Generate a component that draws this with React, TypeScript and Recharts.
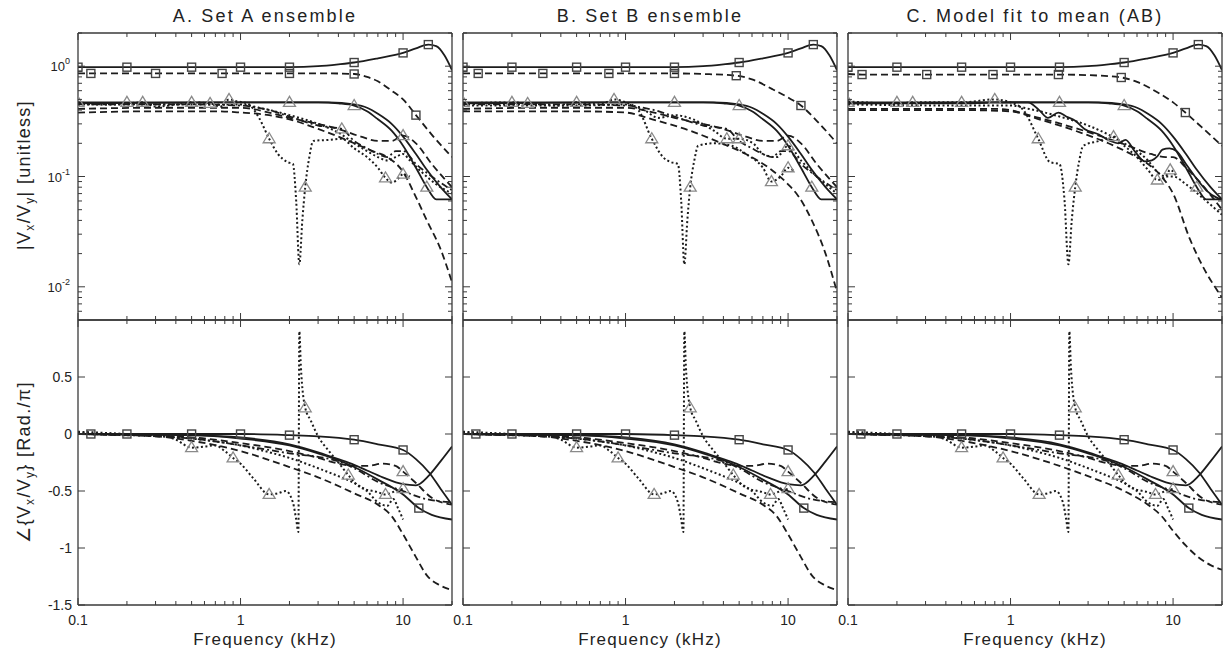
import React from 'react';
import { LineChart, Line, XAxis, YAxis } from 'recharts';

type Pt = [number, number];

const TITLES = ['A. Set A ensemble', 'B. Set B ensemble', 'C. Model fit to mean (AB)'];
const FREQ_TICKS = [0.1, 0.2, 0.3, 0.4, 0.5, 0.6, 0.7, 0.8, 0.9, 1, 2, 3, 4, 5, 6, 7, 8, 9, 10, 20];
const MAG_TICKS = [0.006, 0.007, 0.008, 0.009, 0.01, 0.02, 0.03, 0.04, 0.05, 0.06, 0.07, 0.08, 0.09, 0.1, 0.2, 0.3, 0.4, 0.5, 0.6, 0.7, 0.8, 0.9, 1, 2];
const PHASE_TICKS = [-1.5, -1, -0.5, 0, 0.5];

// ---- magnitude, panel A ----
const magA_sqSolid: Pt[] = [[0.1, 0.98], [0.2, 0.98], [0.5, 0.98], [1, 0.98], [2, 0.98], [3, 1.0], [4, 1.04], [5, 1.08], [7, 1.18], [10, 1.32], [12, 1.45], [14.3, 1.57], [16, 1.52], [18, 1.25], [20, 0.92]];
const magA_sqSolidMarks = [0.1, 0.2, 0.5, 1, 2, 5, 10, 14.3];
const magA_sqDash: Pt[] = [[0.1, 0.86], [0.12, 0.86], [0.3, 0.86], [0.77, 0.86], [2, 0.86], [3.5, 0.86], [5, 0.85], [6, 0.8], [7, 0.73], [8.5, 0.6], [10, 0.5], [12, 0.36], [15, 0.24], [20, 0.15]];
const magA_sqDashMarks = [0.12, 0.3, 0.77, 2, 5, 12];
const magA_triSolid: Pt[] = [[0.1, 0.47], [0.2, 0.47], [0.5, 0.47], [1, 0.47], [2, 0.47], [3, 0.47], [4, 0.46], [5, 0.44], [6, 0.39], [7, 0.33], [8.5, 0.26], [10, 0.19], [12, 0.12], [14, 0.08], [16, 0.062], [20, 0.062]];
const magA_triSolidMarks = [0.1, 0.2, 0.5, 2, 5, 14];
const magA_solid2: Pt[] = [[0.1, 0.46], [1, 0.47], [2, 0.47], [3.5, 0.47], [5, 0.45], [6, 0.42], [7, 0.37], [8.5, 0.3], [10, 0.23], [12, 0.16], [14, 0.115], [17, 0.08], [20, 0.062]];
const magA_dash1: Pt[] = [[0.1, 0.41], [0.3, 0.42], [0.6, 0.42], [1, 0.42], [1.5, 0.38], [2, 0.34], [3, 0.3], [4, 0.27], [5.5, 0.23], [7, 0.21], [8.5, 0.21], [10, 0.235], [12, 0.2], [15, 0.13], [20, 0.08]];
const magA_dash1Marks = [10];
const magA_dash2: Pt[] = [[0.1, 0.38], [0.3, 0.39], [0.7, 0.39], [1, 0.38], [1.5, 0.36], [2, 0.33], [3, 0.27], [4, 0.23], [5, 0.2], [6.5, 0.17], [8, 0.15], [10, 0.11], [12, 0.065], [14, 0.04], [17, 0.022], [20, 0.011]];
const magA_dashDot: Pt[] = [[0.1, 0.45], [0.5, 0.45], [1, 0.44], [1.5, 0.4], [2, 0.35], [3, 0.29], [4.2, 0.27], [5, 0.21], [6, 0.18], [7, 0.16], [8, 0.15], [9, 0.17], [10, 0.17], [12, 0.13], [15, 0.1], [20, 0.075]];
const magA_dashDotMarks = [4.2];
const magA_dotDip: Pt[] = [[0.1, 0.47], [0.15, 0.45], [0.2, 0.46], [0.25, 0.47], [0.3, 0.43], [0.4, 0.45], [0.5, 0.47], [0.65, 0.46], [0.75, 0.43], [0.85, 0.5], [0.95, 0.48], [1.1, 0.46], [1.3, 0.34], [1.5, 0.22], [1.7, 0.16], [1.95, 0.135], [2.1, 0.13], [2.2, 0.06], [2.3, 0.016], [2.4, 0.04], [2.5, 0.08], [2.65, 0.15], [2.8, 0.21], [3.5, 0.215], [4.2, 0.22], [5, 0.18], [6, 0.15], [7, 0.12], [7.8, 0.097], [8.5, 0.088], [9.3, 0.095], [10, 0.105], [11, 0.1]];
const magA_dotDipMarks = [0.25, 0.65, 0.85, 1.5, 2.5, 7.8, 10];
const magA_dot2: Pt[] = [[0.1, 0.45], [0.5, 0.45], [1, 0.45], [1.3, 0.42], [2, 0.36], [3, 0.3], [4, 0.25], [5, 0.2], [6, 0.17], [7, 0.15], [8, 0.14], [9, 0.15], [10, 0.16], [11, 0.14], [13, 0.11], [16, 0.085], [20, 0.07]];

// ---- magnitude, panel B ----
const magB_sqDash: Pt[] = [[0.1, 0.86], [0.124, 0.86], [0.31, 0.86], [0.79, 0.86], [2, 0.86], [3, 0.85], [4.8, 0.82], [6, 0.76], [8, 0.62], [10, 0.52], [12, 0.44], [15, 0.32], [20, 0.2]];
const magB_sqDashMarks = [0.124, 0.31, 0.79, 2, 4.8, 12];
const magB_dash2: Pt[] = [[0.1, 0.39], [0.5, 0.39], [1, 0.38], [1.46, 0.33], [2.5, 0.26], [3.9, 0.2], [5.5, 0.16], [7.9, 0.115], [10, 0.085], [11.6, 0.066], [14, 0.04], [17, 0.02], [20, 0.009]];
const magB_dotDip: Pt[] = [[0.1, 0.46], [0.2, 0.47], [0.25, 0.46], [0.4, 0.44], [0.5, 0.47], [0.7, 0.45], [0.85, 0.5], [1, 0.47], [1.2, 0.4], [1.45, 0.22], [1.7, 0.15], [1.9, 0.135], [2.1, 0.13], [2.2, 0.06], [2.3, 0.016], [2.4, 0.04], [2.5, 0.08], [2.65, 0.14], [2.8, 0.19], [3.5, 0.2], [4.5, 0.19], [5.5, 0.16], [7, 0.12], [7.9, 0.09], [9, 0.1], [10, 0.12], [11, 0.11]];
const magB_dotDipMarks = [0.25, 0.85, 1.45, 2.5, 7.9, 10];
const magB_dot2: Pt[] = [[0.1, 0.44], [0.5, 0.44], [1, 0.45], [1.3, 0.4], [1.6, 0.34], [2, 0.36], [2.6, 0.33], [3.5, 0.26], [4.2, 0.22], [5, 0.22], [6.1, 0.2], [7, 0.16], [8.5, 0.15], [10, 0.19], [12, 0.14], [15, 0.1], [20, 0.07]];
const magB_dot2Marks = [4.2, 5, 10];

// ---- magnitude, panel C ----
const magC_sqDash: Pt[] = [[0.1, 0.85], [0.122, 0.84], [0.305, 0.84], [0.78, 0.84], [1.97, 0.84], [3, 0.83], [4.8, 0.79], [6, 0.72], [8, 0.58], [10, 0.47], [11.9, 0.38], [15, 0.28], [20, 0.19]];
const magC_sqDashMarks = [0.122, 0.305, 0.78, 1.97, 4.8, 11.9];
const magC_wiggle: Pt[] = [[0.1, 0.46], [0.5, 0.46], [1, 0.47], [1.28, 0.47], [1.5, 0.4], [1.7, 0.34], [1.97, 0.38], [2.2, 0.35], [2.5, 0.32], [2.85, 0.27], [3.5, 0.24], [4.1, 0.21], [4.6, 0.2], [5.1, 0.215], [5.8, 0.17], [6.7, 0.137], [7.4, 0.14], [8, 0.152], [8.6, 0.175], [9.5, 0.18], [10.5, 0.17], [12, 0.13], [14, 0.095], [16, 0.075], [18.7, 0.064], [20, 0.062]];
const magC_dash1: Pt[] = [[0.1, 0.41], [0.5, 0.41], [0.84, 0.41], [1.5, 0.34], [2.6, 0.27], [4, 0.22], [5.3, 0.19], [7.3, 0.16], [9, 0.15], [10, 0.15], [12, 0.12], [15, 0.085], [20, 0.05]];
const magC_dash2: Pt[] = [[0.1, 0.4], [0.5, 0.4], [1, 0.39], [1.5, 0.33], [2.5, 0.26], [4, 0.2], [5.5, 0.16], [7, 0.13], [8.5, 0.1], [10, 0.07], [12.7, 0.027], [15, 0.016], [20, 0.008]];
const magC_dotDip: Pt[] = [[0.1, 0.48], [0.2, 0.46], [0.25, 0.47], [0.5, 0.47], [0.8, 0.5], [0.9, 0.49], [1, 0.47], [1.2, 0.4], [1.48, 0.22], [1.75, 0.135], [2, 0.13], [2.15, 0.06], [2.27, 0.016], [2.38, 0.04], [2.5, 0.08], [2.65, 0.14], [2.8, 0.19], [3.5, 0.21], [4.3, 0.23], [5, 0.19], [6, 0.15], [7, 0.115], [8, 0.093], [9, 0.1], [9.6, 0.115], [10.5, 0.1]];
const magC_dotDipMarks = [0.25, 0.8, 1.48, 2.5, 4.3, 8, 9.6];
const magC_dot2: Pt[] = [[0.1, 0.45], [0.5, 0.44], [1, 0.44], [1.3, 0.41], [2, 0.35], [3, 0.29], [4, 0.24], [5, 0.2], [6, 0.17], [7, 0.14], [8, 0.11], [9, 0.1], [10, 0.1], [12, 0.085], [15, 0.065], [20, 0.045]];

// ---- phase, panel A (B uses the same traces) ----
const phA_sqSolid: Pt[] = [[0.1, 0], [0.12, 0], [0.2, 0], [0.5, 0], [1, 0], [2, -0.01], [3, -0.02], [5, -0.05], [7, -0.09], [10, -0.14], [12, -0.22], [14.5, -0.34], [17, -0.48], [20, -0.62]];
const phA_sqSolidMarks = [0.12, 0.2, 0.5, 1, 2, 5, 10];
const phA_solidDip: Pt[] = [[0.1, 0], [0.5, -0.01], [1, -0.03], [2, -0.09], [3, -0.16], [4, -0.22], [5, -0.27], [6, -0.32], [7.5, -0.38], [10, -0.44], [12, -0.45], [14.5, -0.36], [17, -0.24], [20, -0.11]];
const phA_solidDown: Pt[] = [[0.1, 0], [0.5, -0.01], [1, -0.04], [2, -0.1], [3, -0.17], [4, -0.23], [5, -0.29], [7, -0.4], [10, -0.53], [12.5, -0.65], [15, -0.71], [20, -0.75]];
const phA_solidDownMarks = [12.5];
const phA_dashBump: Pt[] = [[0.1, 0], [0.5, -0.03], [1, -0.08], [2, -0.15], [3, -0.21], [4, -0.26], [5, -0.28], [6, -0.28], [7.5, -0.26], [9, -0.28], [10, -0.33], [12, -0.43], [15, -0.56], [20, -0.62]];
const phA_dashBumpMarks = [10];
const phA_dashMid: Pt[] = [[0.1, 0], [0.5, -0.04], [1, -0.1], [1.5, -0.14], [2, -0.17], [3, -0.2], [4, -0.24], [5, -0.3], [7, -0.42], [10, -0.5], [13, -0.56], [20, -0.6]];
const phA_dashLow: Pt[] = [[0.1, 0], [0.3, -0.02], [0.5, -0.06], [1, -0.15], [2, -0.29], [3, -0.38], [5, -0.52], [7, -0.62], [8.5, -0.72], [10, -0.88], [12, -1.08], [14, -1.24], [17, -1.33], [20, -1.37]];
const phA_dotSpike: Pt[] = [[0.1, 0.01], [0.2, -0.01], [0.3, 0], [0.4, -0.05], [0.5, -0.12], [0.6, -0.11], [0.7, -0.1], [0.8, -0.15], [0.9, -0.21], [1, -0.26], [1.2, -0.39], [1.5, -0.53], [1.7, -0.52], [1.9, -0.5], [2.1, -0.6], [2.2, -0.75], [2.27, -0.86], [2.3, 0.9], [2.35, 0.6], [2.5, 0.23], [2.7, 0.12], [3, -0.02], [3.5, -0.15], [4, -0.25], [4.6, -0.36], [5.5, -0.47], [7, -0.51], [7.8, -0.53], [9, -0.5], [10, -0.48]];
const phA_dotSpikeMarks = [0.5, 0.9, 1.5, 2.5, 4.6, 7.8, 10];
const phA_dot2: Pt[] = [[0.1, 0.02], [0.2, 0], [0.5, -0.04], [1, -0.1], [1.5, -0.16], [2, -0.21], [3, -0.3], [4, -0.37], [5, -0.43], [6, -0.5], [7, -0.6], [8, -0.63], [8.7, -0.57], [9.3, -0.65], [10, -0.75]];

// ---- phase, panel C ----
const phC_dashLow: Pt[] = [[0.1, 0], [0.3, -0.02], [0.5, -0.06], [1, -0.15], [2, -0.28], [3, -0.37], [5, -0.5], [7, -0.62], [8.5, -0.72], [10, -0.85], [12, -0.98], [14, -1.07], [17, -1.15], [20, -1.19]];

type LineKind = 'solid' | 'dash' | 'dot' | 'dashdot';
type Curve = { pts: Pt[]; line: LineKind; marker?: 'sq' | 'tri'; marks?: number[] };

const magCurvesA: Curve[] = [
  { pts: magA_dotDip, line: 'dot', marker: 'tri', marks: magA_dotDipMarks },
  { pts: magA_dot2, line: 'dot' },
  { pts: magA_dashDot, line: 'dashdot', marker: 'tri', marks: magA_dashDotMarks },
  { pts: magA_dash1, line: 'dash', marker: 'tri', marks: magA_dash1Marks },
  { pts: magA_dash2, line: 'dash' },
  { pts: magA_sqDash, line: 'dash', marker: 'sq', marks: magA_sqDashMarks },
  { pts: magA_solid2, line: 'solid' },
  { pts: magA_triSolid, line: 'solid', marker: 'tri', marks: magA_triSolidMarks },
  { pts: magA_sqSolid, line: 'solid', marker: 'sq', marks: magA_sqSolidMarks },
];
const magCurvesB: Curve[] = [
  { pts: magB_dotDip, line: 'dot', marker: 'tri', marks: magB_dotDipMarks },
  { pts: magB_dot2, line: 'dot', marker: 'tri', marks: magB_dot2Marks },
  { pts: magA_dashDot, line: 'dashdot' },
  { pts: magA_dash1, line: 'dash' },
  { pts: magB_dash2, line: 'dash' },
  { pts: magB_sqDash, line: 'dash', marker: 'sq', marks: magB_sqDashMarks },
  { pts: magA_solid2, line: 'solid' },
  { pts: magA_triSolid, line: 'solid', marker: 'tri', marks: magA_triSolidMarks },
  { pts: magA_sqSolid, line: 'solid', marker: 'sq', marks: magA_sqSolidMarks },
];
const magCurvesC: Curve[] = [
  { pts: magC_dotDip, line: 'dot', marker: 'tri', marks: magC_dotDipMarks },
  { pts: magC_dot2, line: 'dot' },
  { pts: magC_dash1, line: 'dash' },
  { pts: magC_dash2, line: 'dash' },
  { pts: magC_sqDash, line: 'dash', marker: 'sq', marks: magC_sqDashMarks },
  { pts: magC_wiggle, line: 'solid' },
  { pts: magA_solid2, line: 'solid' },
  { pts: magA_triSolid, line: 'solid', marker: 'tri', marks: magA_triSolidMarks },
  { pts: magA_sqSolid, line: 'solid', marker: 'sq', marks: magA_sqSolidMarks },
];
const phaseCurves = (low: Pt[]): Curve[] => [
  { pts: phA_dotSpike, line: 'dot', marker: 'tri', marks: phA_dotSpikeMarks },
  { pts: phA_dot2, line: 'dot' },
  { pts: phA_dashMid, line: 'dashdot' },
  { pts: phA_dashBump, line: 'dash', marker: 'tri', marks: phA_dashBumpMarks },
  { pts: low, line: 'dash' },
  { pts: phA_solidDown, line: 'solid', marker: 'sq', marks: phA_solidDownMarks },
  { pts: phA_solidDip, line: 'solid' },
  { pts: phA_sqSolid, line: 'solid', marker: 'sq', marks: phA_sqSolidMarks },
];

const FONT = '"Liberation Sans", Arial, Helvetica, sans-serif';
const INK = '#1c1c1c';
const FRAME = '#3a3a3a';
// outer room around each plot box; axes take 1px of it
const M = { top: 30, right: 30, bottom: 50, left: 75 };
const AX = 1;
const CM = { top: M.top - AX, right: M.right - AX, bottom: M.bottom - AX, left: M.left - AX };
const COLS = [78, 463, 848];
const PW = 374;

const DASH: Record<LineKind, string | undefined> = {
  solid: undefined,
  dash: '7 4',
  dot: '2 2.5',
  dashdot: '7 3 2 3',
};

const isDecade = (v: number) => Math.abs(Math.log10(v) - Math.round(Math.log10(v))) < 1e-6;

function FreqTick({ x, y, payload, side, labels }: any) {
  const v = payload.value;
  const major = isDecade(v);
  const len = major ? 7 : 4;
  const d = side === 'bottom' ? -len : len;
  return (
    <g>
      <line x1={x} y1={y} x2={x} y2={y + d} stroke={FRAME} strokeWidth={1} />
      {labels && major && (
        <text x={x} y={y + 20} textAnchor="middle" fontSize={14} fontFamily={FONT} fill="#222">
          {String(v)}
        </text>
      )}
    </g>
  );
}

function MagTick({ x, y, payload, side, labels }: any) {
  const v = payload.value;
  const major = isDecade(v);
  const len = major ? 7 : 4;
  const d = side === 'left' ? len : -len;
  return (
    <g>
      <line x1={x} y1={y} x2={x + d} y2={y} stroke={FRAME} strokeWidth={1} />
      {labels && major && (
        <text x={x - 8} y={y + 5} textAnchor="end" fontSize={13} fontFamily={FONT} fill="#222">
          10
          <tspan dy={-7} fontSize={9}>
            {String(Math.round(Math.log10(v)))}
          </tspan>
        </text>
      )}
    </g>
  );
}

function PhaseTick({ x, y, payload, side, labels }: any) {
  const d = side === 'left' ? 7 : -7;
  return (
    <g>
      <line x1={x} y1={y} x2={x + d} y2={y} stroke={FRAME} strokeWidth={1} />
      {labels && (
        <text x={x - 6} y={y + 5} textAnchor="end" fontSize={14} fontFamily={FONT} fill="#222">
          {String(payload.value)}
        </text>
      )}
    </g>
  );
}

function markerDot(c: Curve) {
  return (p: any) => {
    const { cx, cy, payload, index } = p;
    if (!c.marker || !c.marks || !c.marks.includes(payload.f)) return <g key={index} />;
    if (c.marker === 'sq')
      return <rect key={index} x={cx - 4} y={cy - 4} width={8} height={8} fill="none" stroke="#444" strokeWidth={1.4} />;
    return (
      <polygon
        key={index}
        points={`${cx},${cy - 6} ${cx - 6},${cy + 4} ${cx + 6},${cy + 4}`}
        fill="none"
        stroke="#8a8a8a"
        strokeWidth={1.3}
      />
    );
  };
}

function Panel({ left, top, height, curves, kind, yLabels, xLabels }: any) {
  const isMag = kind === 'mag';
  const yDomain = isMag ? [0.005, 2] : [-1.5, 1];
  const yTicks = isMag ? MAG_TICKS : PHASE_TICKS;
  const YT = isMag ? MagTick : PhaseTick;
  const yScale = isMag ? 'log' : 'linear';
  const frame = { stroke: FRAME, strokeWidth: 1.3 };
  return (
    <div style={{ position: 'absolute', left: left - M.left, top: top - M.top }}>
      <LineChart width={PW + M.left + M.right} height={height + M.top + M.bottom} margin={CM}>
        <XAxis
          xAxisId="b"
          dataKey="f"
          type="number"
          scale="log"
          domain={[0.1, 20]}
          allowDataOverflow
          ticks={FREQ_TICKS}
          interval={0}
          height={AX}
          tickSize={0}
          tickMargin={0}
          tickLine={false}
          axisLine={frame}
          tick={(p: any) => <FreqTick {...p} side="bottom" labels={xLabels} />}
        />
        <XAxis
          xAxisId="t"
          orientation="top"
          dataKey="f"
          type="number"
          scale="log"
          domain={[0.1, 20]}
          allowDataOverflow
          ticks={FREQ_TICKS}
          interval={0}
          height={AX}
          tickSize={0}
          tickMargin={0}
          tickLine={false}
          axisLine={frame}
          tick={(p: any) => <FreqTick {...p} side="top" labels={false} />}
        />
        <YAxis
          yAxisId="l"
          type="number"
          scale={yScale}
          domain={yDomain}
          allowDataOverflow
          ticks={yTicks}
          interval={0}
          width={AX}
          tickSize={0}
          tickMargin={0}
          tickLine={false}
          axisLine={frame}
          tick={(p: any) => <YT {...p} side="left" labels={yLabels} />}
        />
        <YAxis
          yAxisId="r"
          orientation="right"
          type="number"
          scale={yScale}
          domain={yDomain}
          allowDataOverflow
          ticks={yTicks}
          interval={0}
          width={AX}
          tickSize={0}
          tickMargin={0}
          tickLine={false}
          axisLine={frame}
          tick={(p: any) => <YT {...p} side="right" labels={false} />}
        />
        {curves.map((c: Curve, i: number) => (
          <Line
            key={i}
            xAxisId="b"
            yAxisId="l"
            data={c.pts.map(([f, v]) => ({ f, v }))}
            dataKey="v"
            type="monotone"
            stroke={INK}
            strokeWidth={c.line === 'dot' ? 2 : 1.8}
            strokeDasharray={DASH[c.line]}
            dot={markerDot(c)}
            activeDot={false}
            isAnimationActive={false}
          />
        ))}
      </LineChart>
    </div>
  );
}

export default function App() {
  const magSets = [magCurvesA, magCurvesB, magCurvesC];
  const phaseSets = [phaseCurves(phA_dashLow), phaseCurves(phA_dashLow), phaseCurves(phC_dashLow)];
  return (
    <div style={{ position: 'absolute', left: 0, top: 0, width: 1226, height: 652, background: '#fff' }}>
      {COLS.map((x, i) => (
        <React.Fragment key={i}>
          <Panel left={x} top={33} height={287} curves={magSets[i]} kind="mag" yLabels={i === 0} xLabels={false} />
          <Panel left={x} top={320} height={285} curves={phaseSets[i]} kind="phase" yLabels={i === 0} xLabels />
        </React.Fragment>
      ))}
      <svg width={1226} height={652} style={{ position: 'absolute', left: 0, top: 0, pointerEvents: 'none' }}>
        {COLS.map((x, i) => (
          <g key={i} fontFamily={FONT} fill="#222">
            <text x={x + PW / 2} y={22} textAnchor="middle" fontSize={18} letterSpacing={2.2}>
              {TITLES[i]}
            </text>
            <text x={x + PW / 2} y={645} textAnchor="middle" fontSize={17} letterSpacing={1.2}>
              Frequency (kHz)
            </text>
          </g>
        ))}
        <text transform="rotate(-90 30 175)" x={30} y={175} textAnchor="middle" fontSize={18} letterSpacing={1.3} fontFamily={FONT} fill="#222">
          |V<tspan dy={4} fontSize={12}>x</tspan>
          <tspan dy={-4}>/V</tspan>
          <tspan dy={4} fontSize={12}>y</tspan>
          <tspan dy={-4}>| [unitless]</tspan>
        </text>
        <text transform="rotate(-90 30 462)" x={30} y={462} textAnchor="middle" fontSize={18} letterSpacing={1.3} fontFamily={FONT} fill="#222">
          ∠{'{'}V<tspan dy={4} fontSize={12}>x</tspan>
          <tspan dy={-4}>/V</tspan>
          <tspan dy={4} fontSize={12}>y</tspan>
          <tspan dy={-4}>{'}'} [Rad./π]</tspan>
        </text>
      </svg>
    </div>
  );
}
